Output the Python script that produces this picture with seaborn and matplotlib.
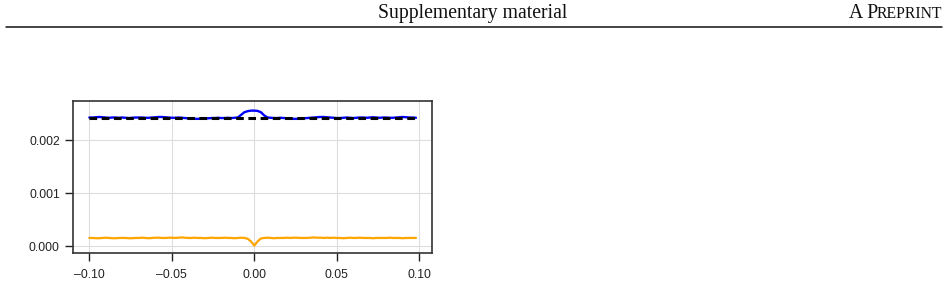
import numpy as np
import pandas as pd
import matplotlib.pyplot as plt
import seaborn as sns

# sampling grid of the perturbation (-0.100 ... 0.098)
x = np.round(np.arange(-0.100, 0.0985, 0.002), 3)

# values in units of 1e-3
blue_e3 = [2.43, 2.43, 2.435, 2.44, 2.435, 2.43, 2.425, 2.43, 2.43, 2.425,
           2.43, 2.425, 2.42, 2.425, 2.43, 2.43, 2.43, 2.425, 2.425, 2.43,
           2.435, 2.44, 2.44, 2.435, 2.43, 2.425, 2.425, 2.43, 2.425, 2.42,
           2.415, 2.41, 2.405, 2.405, 2.41, 2.41, 2.415, 2.42, 2.42, 2.425,
           2.42, 2.42, 2.425, 2.42, 2.425, 2.43, 2.48, 2.53, 2.55, 2.56,
           2.56, 2.555, 2.53, 2.47, 2.43, 2.425, 2.42, 2.42, 2.425, 2.42,
           2.415, 2.41, 2.405, 2.405, 2.41, 2.415, 2.42, 2.425, 2.43, 2.435,
           2.44, 2.44, 2.435, 2.43, 2.425, 2.42, 2.42, 2.425, 2.43, 2.425,
           2.42, 2.425, 2.43, 2.43, 2.425, 2.43, 2.435, 2.43, 2.425, 2.43,
           2.43, 2.425, 2.425, 2.43, 2.435, 2.44, 2.435, 2.43, 2.43, 2.425]
orange_e3 = [0.155, 0.155, 0.15, 0.15, 0.155, 0.16, 0.155, 0.15, 0.15, 0.155,
             0.155, 0.155, 0.15, 0.15, 0.155, 0.155, 0.16, 0.155, 0.15, 0.155,
             0.16, 0.16, 0.155, 0.155, 0.16, 0.16, 0.155, 0.16, 0.165, 0.16,
             0.155, 0.155, 0.16, 0.155, 0.155, 0.15, 0.155, 0.16, 0.155, 0.155,
             0.155, 0.16, 0.155, 0.155, 0.15, 0.155, 0.16, 0.155, 0.14, 0.09,
             0.01, 0.09, 0.145, 0.155, 0.16, 0.155, 0.15, 0.155, 0.155, 0.155,
             0.16, 0.155, 0.16, 0.16, 0.155, 0.155, 0.155, 0.16, 0.165, 0.16,
             0.16, 0.155, 0.16, 0.155, 0.16, 0.155, 0.155, 0.15, 0.155, 0.16,
             0.155, 0.155, 0.16, 0.155, 0.155, 0.155, 0.15, 0.155, 0.155, 0.155,
             0.155, 0.16, 0.155, 0.155, 0.155, 0.15, 0.155, 0.155, 0.155, 0.155]
baseline_e3 = 2.42

df = pd.DataFrame({
    'x': x,
    'blue': np.array(blue_e3) * 1e-3,
    'orange': np.array(orange_e3) * 1e-3,
    'baseline': np.full(len(x), baseline_e3 * 1e-3),
})

sns.set_style('ticks')
plt.rcParams['font.family'] = ['Liberation Sans', 'DejaVu Sans']

fig = plt.figure(figsize=(9.48, 2.84), dpi=100)

# page header
serif = 'Liberation Serif'
fig.text(0.499, 0.935, 'Supplementary material', ha='center', va='baseline',
         fontsize=14.2, family=serif, color='#111111')
fig.text(849 / 948, 0.935, 'A P', ha='left', va='baseline',
         fontsize=14.2, family=serif, color='#111111')
fig.text(942 / 948, 0.935, 'REPRINT', ha='right', va='baseline',
         fontsize=11.3, family=serif, color='#111111')
fig.add_artist(plt.Line2D([6 / 948, 942 / 948], [1 - 26.5 / 284] * 2,
                          color='#111111', lw=1.1))

ax = fig.add_axes([0.077, 0.109, 0.379, 0.535])
sns.lineplot(data=df, x='x', y='orange', ax=ax, color='#ffa500', lw=1.6)
sns.lineplot(data=df, x='x', y='blue', ax=ax, color='#0000ff', lw=1.7)
sns.lineplot(data=df, x='x', y='baseline', ax=ax, color='black', lw=2.2,
             dashes=False, linestyle=(0, (2.5, 1.5)))

ax.set_ylim(-0.00013, 0.00274)
ax.set_xticks([-0.10, -0.05, 0.00, 0.05, 0.10])
ax.set_xticklabels(['\u20130.10', '\u20130.05', '0.00', '0.05', '0.10'])
ax.set_yticks([0.000, 0.001, 0.002])
ax.set_yticklabels(['0.000', '0.001', '0.002'])
ax.set_xlabel('')
ax.set_ylabel('')
ax.grid(True, color='#dddddd', lw=0.8)
ax.tick_params(labelsize=8.8, length=5.5, width=1, pad=4, colors='#222222')
ax.tick_params(axis='x', pad=6)
for s in ax.spines.values():
    s.set_color('#333333')
    s.set_linewidth(1.2)

fig.savefig('out.png', dpi=100)
